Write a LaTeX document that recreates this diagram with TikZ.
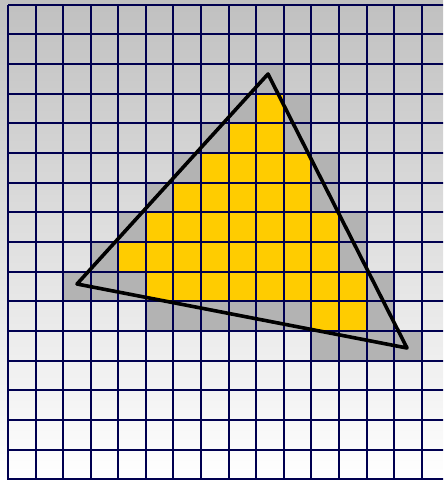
\documentclass[tikz,border=0pt]{standalone}
\usepackage{tikz}
\usetikzlibrary{calc}

\definecolor{gridnavy}{RGB}{0,0,80}
\definecolor{covergray}{RGB}{179,179,179}
\definecolor{insideyellow}{RGB}{255,204,0}
\definecolor{bgtop}{RGB}{192,192,192}

% one raster cell: style, column, row
\newcommand{\rastercell}[3]{%
\fill[#1] ({8+27.58*#2},{4.7+29.66*#3}) rectangle ++(27.58,29.66);}

\begin{document}
\begin{tikzpicture}[
x=0.5mm,
y=-0.5mm,
covered/.style={fill=covergray},
inside/.style={fill=insideyellow},
gridline/.style={draw=gridnavy,line width=1mm},
edge/.style={draw=black,line width=1.8mm,line join=round}
]

\clip (0,0) rectangle (443,480);
\shade[top color=bgtop,bottom color=white] (0,0) rectangle (443,480);

% cells touched by the triangle
\foreach \r/\a/\b in {2/9/9,3/8/8,3/10/10,4/7/7,4/10/10,5/6/6,5/11/11,
6/5/5,6/11/11,7/4/4,7/12/12,8/3/3,8/12/12,9/2/4,9/13/13,
10/5/10,10/13/13,11/11/14}
\foreach \c in {\a,...,\b}
\rastercell{covered}{\c}{\r};

% cells with centre inside
\foreach \r/\a/\b in {3/9/9,4/8/9,5/7/10,6/6/10,7/5/11,8/4/11,9/5/12,10/11/12}
\foreach \c in {\a,...,\b}
\rastercell{inside}{\c}{\r};

% grid
\foreach \i in {0,...,16}
\draw[gridline] ({8+27.58*\i},4.7) -- ({8+27.58*\i},490);
\foreach \j in {0,...,16}
\draw[gridline] (8,{4.7+29.66*\j}) -- (450,{4.7+29.66*\j});

% triangle
\coordinate (apex) at (268,74);
\coordinate (left) at (77,284);
\coordinate (right) at (407,348);
\draw[edge] (apex) -- (left) -- (right) -- cycle;

\end{tikzpicture}
\end{document}
